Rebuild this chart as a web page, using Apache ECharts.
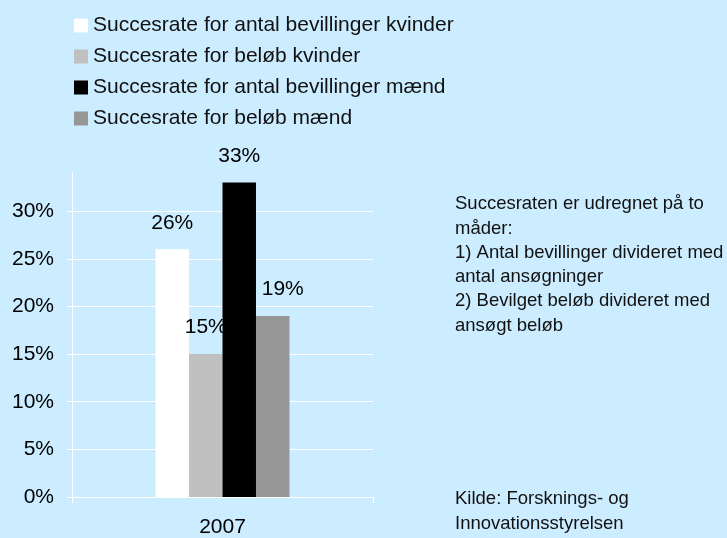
<!DOCTYPE html>
<html>
<head>
<meta charset="utf-8">
<script src="https://cdn.jsdelivr.net/npm/echarts@6/dist/echarts.min.js"></script>
<style>
  html, body { margin: 0; padding: 0; background: #ccecff; }
  #chart { width: 727px; height: 538px; }
</style>
</head>
<body>
<div id="chart"></div>
<script>
// succesrate 2007, kvinder/mænd
var chart = echarts.init(document.getElementById('chart'));

var years = ['2007'];
var seriesNames = [
    'Succesrate for antal bevillinger kvinder',
    'Succesrate for beløb kvinder',
    'Succesrate for antal bevillinger mænd',
    'Succesrate for beløb mænd'
];
var antalKvinder = [0.26];
var beloebKvinder = [0.15];
var antalMaend = [0.33];
var beloebMaend = [0.19];
var yTicks = [0, 0.05, 0.10, 0.15, 0.20, 0.25, 0.30];

var noteLines = [
    'Succesraten er udregnet på to',
    'måder:',
    '1) Antal bevillinger divideret med',
    'antal ansøgninger',
    '2) Bevilget beløb divideret med',
    'ansøgt beløb'
];
var sourceLines = ['Kilde: Forsknings- og', 'Innovationsstyrelsen'];

var barColors = ['#ffffff', '#c0c0c0', '#000000', '#969696'];
var font = 'Liberation Sans, Arial, sans-serif';

function pct(v) { return Math.round(v * 100) + '%'; }

function makeSeries(name, values, color, labelOffset) {
    return {
        name: name,
        type: 'bar',
        data: values,
        barGap: '0%',
        barCategoryGap: '55.5%',
        itemStyle: { color: color },
        label: {
            show: true,
            position: 'top',
            distance: 16,
            offset: labelOffset || [0, 0],
            color: '#000',
            fontFamily: font,
            fontSize: 21,
            formatter: function (p) { return pct(p.value); }
        }
    };
}

var option = {
    backgroundColor: '#ccecff',
    animation: false,
    legend: {
        orient: 'vertical',
        left: 69,
        top: 10,
        itemWidth: 14,
        itemHeight: 14,
        itemGap: 10,
        icon: 'rect',
        data: seriesNames,
        textStyle: { color: '#111', fontFamily: font, fontSize: 21 }
    },
    grid: {
        left: 72,
        right: 354,
        top: 173,
        bottom: 39
    },
    xAxis: {
        type: 'category',
        data: years,
        axisLine: { lineStyle: { color: '#ffffff', width: 1 } },
        axisTick: { show: true, length: 6, lineStyle: { color: '#ffffff' } },
        axisLabel: { color: '#000', fontFamily: font, fontSize: 21, margin: 20 }
    },
    yAxis: {
        type: 'value',
        min: 0,
        max: 0.34,
        interval: 0.05,
        axisLine: { show: true, lineStyle: { color: '#ffffff', width: 1 } },
        axisTick: { show: true, length: 5, customValues: yTicks, lineStyle: { color: '#ffffff' } },
        axisLabel: {
            customValues: yTicks,
            color: '#000',
            fontFamily: font,
            fontSize: 21,
            margin: 18,
            formatter: function (v) { return pct(v); }
        },
        splitLine: { show: true, lineStyle: { color: '#ffffff', width: 1 } }
    },
    graphic: [{
        type: 'text',
        left: 455,
        top: 192,
        style: {
            text: noteLines.join('\n'),
            fill: '#111',
            font: '18.5px ' + font,
            lineHeight: 24.3
        }
    }, {
        type: 'text',
        left: 455,
        top: 487,
        style: {
            text: sourceLines.join('\n'),
            fill: '#111',
            font: '18.5px ' + font,
            lineHeight: 24.3
        }
    }],
    series: [
        makeSeries(seriesNames[0], antalKvinder, barColors[0]),
        makeSeries(seriesNames[1], beloebKvinder, barColors[1]),
        makeSeries(seriesNames[2], antalMaend, barColors[2]),
        makeSeries(seriesNames[3], beloebMaend, barColors[3], [10, 0])
    ]
};
chart.setOption(option);
</script>
</body>
</html>
